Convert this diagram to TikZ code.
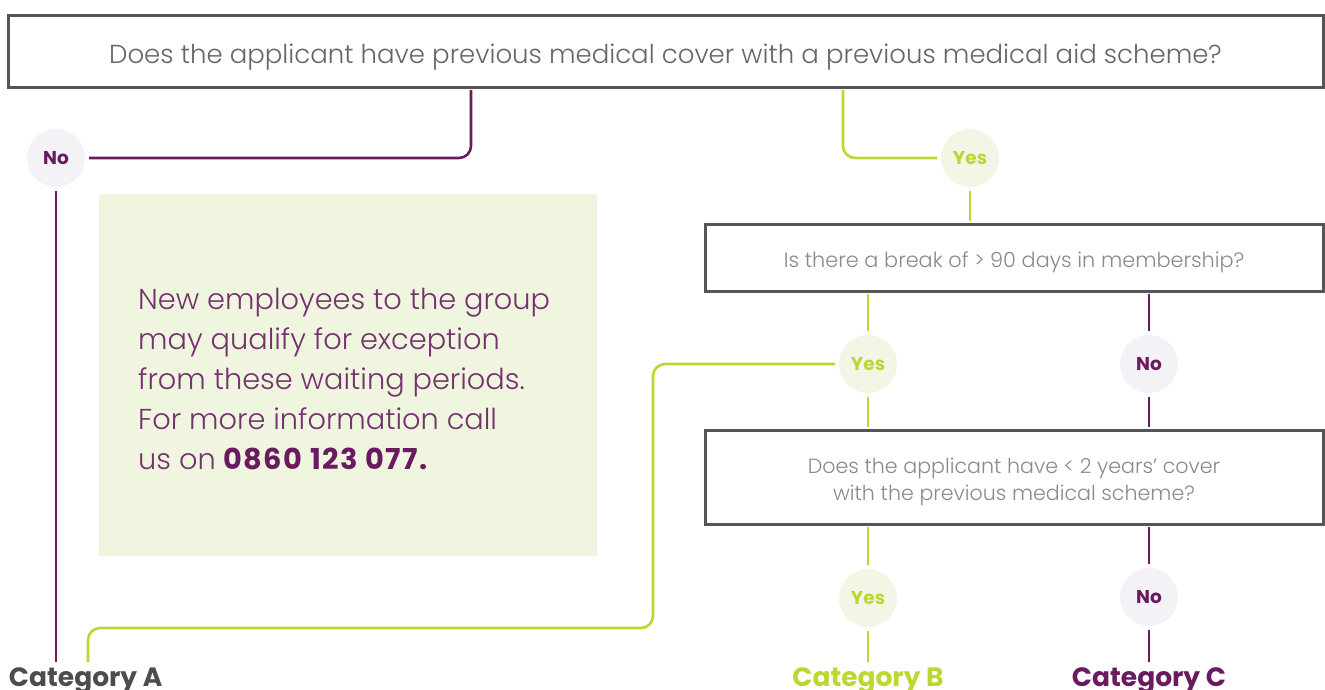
\documentclass[tikz,border=0pt]{standalone}
\usepackage{fontspec}
\setmainfont{Poppins}
\IfFontExistsTF{Poppins Light}{\newfontfamily\lightfont{Poppins Light}}{\newfontfamily\lightfont{Poppins}}
\newfontfamily\phonefont{Poppins}[LetterSpace=5]
\definecolor{plum}{HTML}{6A1A5E}
\definecolor{lime}{HTML}{BDD631}
\definecolor{framegray}{HTML}{555555}
\definecolor{qgray}{HTML}{666666}
\definecolor{qlight}{HTML}{8A8A8A}
\definecolor{limefill}{HTML}{F2F7E5}
\definecolor{plumfill}{HTML}{F4F2F6}
\definecolor{notefill}{HTML}{EFF5DF}
\definecolor{notetext}{HTML}{74336E}
\definecolor{catgray}{HTML}{4D4D4D}
\tikzset{
  question/.style={draw=framegray, line width=3pt, fill=white, inner sep=0pt, outer sep=3pt, align=center},
  bubble/.style={circle, minimum size=58pt, inner sep=0pt, outer sep=4pt, font=\fontsize{18.5}{18.5}\selectfont\bfseries},
  yesbubble/.style={bubble, fill=limefill, text=lime},
  nobubble/.style={bubble, fill=plumfill, text=plum},
  limeline/.style={draw=lime, line width=2.6pt, rounded corners=12pt},
  plumline/.style={draw=plum, line width=2.6pt, rounded corners=12pt},
  category/.style={font=\fontsize{26.5}{26.5}\selectfont\bfseries, inner sep=0pt, outer sep=5pt}
}
\begin{document}
\begin{tikzpicture}[x=1pt, y=-1pt]
\useasboundingbox (0,0) rectangle (1325,689);

% questions
\node[question, minimum width=1315pt, minimum height=72pt, text=qgray,
      text height=24pt, text depth=0pt,
      font=\lightfont\fontsize{26}{26}\selectfont] (q1) at (665.5,51)
  {Does the applicant have previous medical cover with a previous medical aid scheme?};
\node[question, minimum width=618pt, minimum height=67pt, text=qlight,
      text height=19pt, text depth=0pt,
      font=\lightfont\fontsize{20.8}{20.8}\selectfont] (q2) at (1014,257.5)
  {Is there a break of > 90 days in membership?};
\node[question, minimum width=618pt, minimum height=94pt] (q3) at (1014,477) {};
\node[align=center, inner sep=0pt, text=qlight,
      font=\lightfont\fontsize{20.6}{27}\selectfont] (q3text) at (1014,482)
  {Does the applicant have < 2 years’ cover\\with the previous medical scheme?};

% answer bubbles
\node[nobubble]  (no1)  at (56,158)   {No};
\node[yesbubble] (yes1) at (970,158)  {Yes};
\node[yesbubble] (yes2) at (868,364)  {Yes};
\node[nobubble]  (no2)  at (1149,364) {No};
\node[yesbubble] (yes3) at (868,598)  {Yes};
\node[nobubble]  (no3)  at (1149,597) {No};

% outcomes
\node[category, text=catgray, anchor=base west] (catA) at (4,686) {Category A};
\node[category, text=lime, anchor=base] (catB) at (868,686) {Category B};
\node[category, text=plum, anchor=base] (catC) at (1149,686) {Category C};

% note panel
\fill[notefill] (99,194) rectangle (597,556);
\node[anchor=north west, inner sep=0pt, align=left, text=notetext,
      font=\lightfont\fontsize{28.8}{40}\selectfont] (note) at (138,288)
  {New employees to the group\\may qualify for exception\\from these waiting periods.\\For more information call\\us on {\phonefont\bfseries\color{plum}0860 123 077.}};

% branch taps
\coordinate (tapNo) at (471,0);
\coordinate (tapYes) at (843,0);
\coordinate (bendA) at (653,628);
\coordinate (legA) at (88,0);

% connectors
\draw[plumline] (q1.south -| tapNo) |- (no1);
\draw[plumline] (no1) -- (no1 |- catA.north);
\draw[limeline] (q1.south -| tapYes) |- (yes1);
\draw[limeline] (yes1) -- (yes1 |- q2.north);
\draw[limeline] (q2.south -| yes2) -- (yes2);
\draw[limeline] (yes2) -- (yes2 |- q3.north);
\draw[limeline] (yes2) -| (bendA) -| (catA.north -| legA);
\draw[plumline] (q2.south -| no2) -- (no2);
\draw[plumline] (no2) -- (no2 |- q3.north);
\draw[limeline] (q3.south -| yes3) -- (yes3);
\draw[limeline] (yes3) -- (catB);
\draw[plumline] (q3.south -| no3) -- (no3);
\draw[plumline] (no3) -- (catC);
\end{tikzpicture}
\end{document}
